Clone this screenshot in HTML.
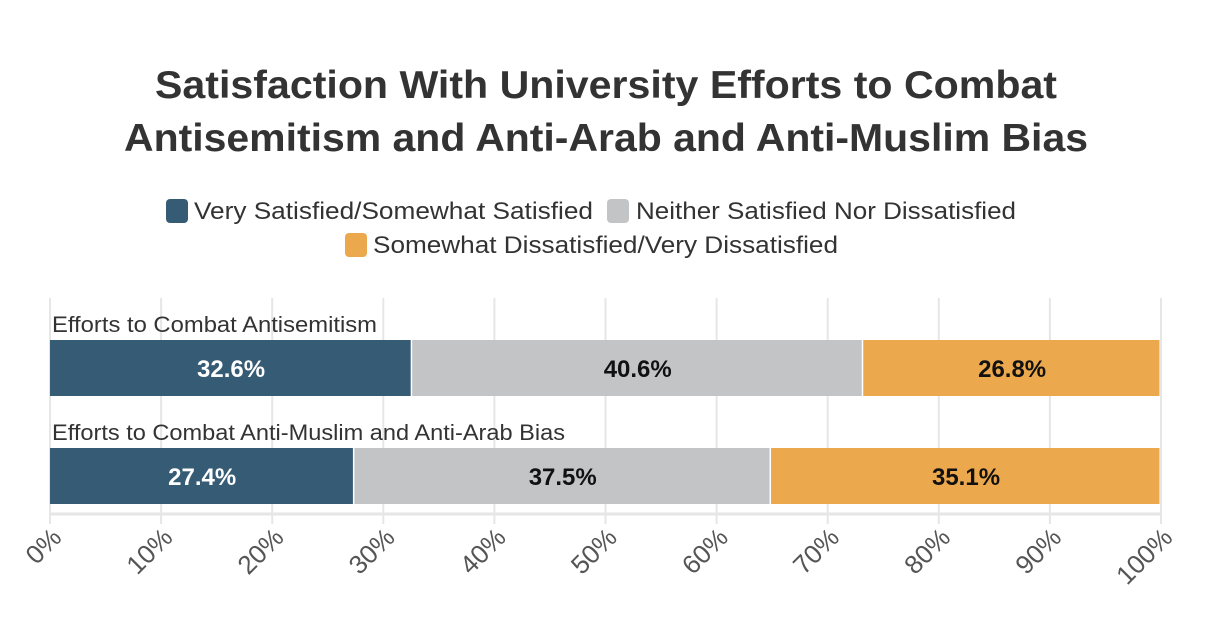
<!DOCTYPE html>
<html><head><meta charset="utf-8"><style>
body{margin:0;background:#fff;width:1228px;height:636px;overflow:hidden;font-family:"Liberation Sans",sans-serif}
</style></head><body>
<svg width="1228" height="636" xmlns="http://www.w3.org/2000/svg">
<text x="606" y="98" text-anchor="middle" font-size="39" font-weight="bold" fill="#333" textLength="902" lengthAdjust="spacingAndGlyphs">Satisfaction With University Efforts to Combat</text>
<text x="606" y="151" text-anchor="middle" font-size="39" font-weight="bold" fill="#333" textLength="964" lengthAdjust="spacingAndGlyphs">Antisemitism and Anti-Arab and Anti-Muslim Bias</text>
<g font-size="24" fill="#333">
<rect x="166" y="199" width="22" height="24" rx="4" fill="#365b75"/>
<text x="194" y="219" textLength="399" lengthAdjust="spacingAndGlyphs">Very Satisfied/Somewhat Satisfied</text>
<rect x="607" y="199" width="22" height="24" rx="4" fill="#c3c4c6"/>
<text x="636" y="219" textLength="380" lengthAdjust="spacingAndGlyphs">Neither Satisfied Nor Dissatisfied</text>
<rect x="345" y="233" width="22" height="24" rx="4" fill="#eca84c"/>
<text x="373" y="253" textLength="465" lengthAdjust="spacingAndGlyphs">Somewhat Dissatisfied/Very Dissatisfied</text>
</g>
<g id="plot"></g>
</svg>
<script>
const categories=["Efforts to Combat Antisemitism","Efforts to Combat Anti-Muslim and Anti-Arab Bias"];
const satisfied=[32.6,27.4];
const neither=[40.6,37.5];
const dissatisfied=[26.8,35.1];
const ticks=[0,10,20,30,40,50,60,70,80,90,100];
const NS="http://www.w3.org/2000/svg";
const g=document.getElementById('plot');
const x0=50,x1=1161;
const xs=v=>x0+(x1-x0)*v/100;
const barTop=[340,448],barH=56;
const labelLen=[325,513];
function mk(t,a){const e=document.createElementNS(NS,t);for(const k in a)e.setAttribute(k,a[k]);g.appendChild(e);return e;}
ticks.forEach(t=>{
 const l=mk('line',{x1:xs(t),x2:xs(t),y1:298,y2:524,stroke:'#e6e6e6','stroke-width':2});
 
 
 const tx=mk('text',{x:xs(t)+13,y:539,'text-anchor':'end','font-size':26,fill:'#555',transform:`rotate(-45 ${xs(t)+13} 539)`});
 tx.textContent=t+'%';
 
 
});
const ax=mk('line',{x1:x0,x2:x1,y1:514,y2:514,stroke:'#e6e6e6','stroke-width':3});


const series=[[satisfied,'#365b75','#fff','satisfied'],[neither,'#c3c4c6','#111','neither'],[dissatisfied,'#eca84c','#111','dissatisfied']];
categories.forEach((c,i)=>{
 const lab=mk('text',{x:x0+2,y:barTop[i]-8,'font-size':22,fill:'#333',textLength:labelLen[i],lengthAdjust:'spacingAndGlyphs'});
 lab.textContent=c;
 
 
 let acc=0;
 series.forEach(([arr,col,tc,nm])=>{
  const v=arr[i];
  const r=mk('rect',{x:xs(acc),y:barTop[i],width:xs(acc+v)-xs(acc)-1.5,height:barH,fill:col});
  
  
  const t=mk('text',{x:(xs(acc)+xs(acc+v))/2,y:barTop[i]+37,'text-anchor':'middle','font-size':24,'font-weight':'bold',fill:tc});
  t.textContent=v.toFixed(1)+'%';
  
  
  acc+=v;
 });
});
</script>
</body></html>
